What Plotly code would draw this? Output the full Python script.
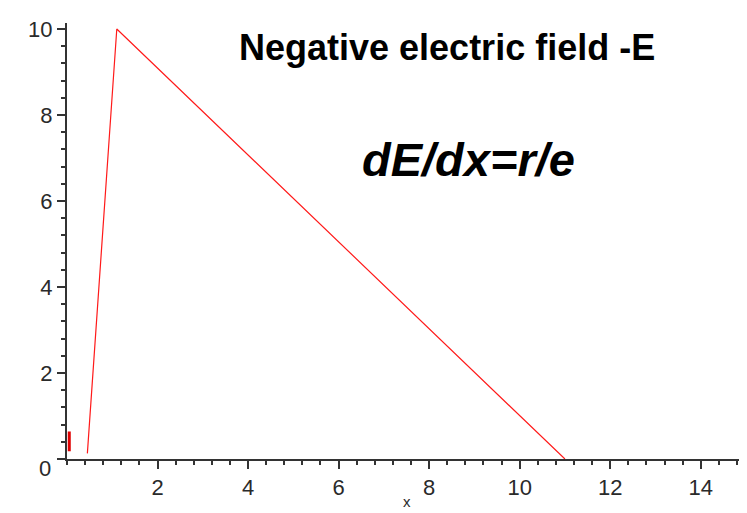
import plotly.graph_objects as go

# Data
field_x = [0.45, 1.1, 11.0]
field_y = [0.13, 10.0, 0.0]

edge_x = [0.05, 0.05]
edge_y = [0.18, 0.64]

x_ticks = [2, 4, 6, 8, 10, 12, 14]
y_ticks = [0, 2, 4, 6, 8, 10]
y_labels = ["", "2", "4", "6", "8", "10"]

title_text = "Negative electric field -E"
eq_text = "<b><i>dE/dx=r/e</i></b>"
x_title = "x"

fig = go.Figure()
fig.add_trace(go.Scatter(x=field_x, y=field_y, mode="lines",
                         line=dict(color="#ff1a1a", width=1.2),
                         cliponaxis=False, showlegend=False))
fig.add_trace(go.Scatter(x=edge_x, y=edge_y, mode="lines",
                         line=dict(color="#e00000", width=3),
                         cliponaxis=False, showlegend=False))

fam = "Liberation Sans, Arial, sans-serif"
axis_font = dict(family=fam, size=22, color="#2a2a2a")

fig.update_layout(
    width=747, height=513,
    margin=dict(l=59, r=9, t=10, b=62),
    paper_bgcolor="white", plot_bgcolor="white",
    showlegend=False,
    xaxis=dict(range=[0, 15], showgrid=False, zeroline=False,
               showline=True, linecolor="#333333", linewidth=2,
               ticks="outside", ticklen=8, tickwidth=2, tickcolor="#333333",
               tickvals=x_ticks, ticktext=[str(v) for v in x_ticks],
               tickfont=axis_font,
               minor=dict(dtick=0.4, tick0=0, ticks="outside", ticklen=4,
                          tickwidth=2, tickcolor="#333333")),
    yaxis=dict(range=[0, 10.14], showgrid=False, zeroline=False,
               showline=True, linecolor="#333333", linewidth=2,
               ticks="outside", ticklen=8, tickwidth=2, tickcolor="#333333",
               tickvals=y_ticks, ticktext=y_labels,
               tickfont=axis_font,
               minor=dict(dtick=0.4, tick0=0, ticks="outside", ticklen=4,
                          tickwidth=2, tickcolor="#333333")),
    annotations=[
        dict(text="0", xref="x", yref="y", x=0, y=0, xanchor="right", yanchor="middle",
             xshift=-14, yshift=-9, showarrow=False, font=axis_font),
        dict(text=x_title, xref="paper", yref="paper", x=0.5, y=-0.098,
             xanchor="center", yanchor="middle", showarrow=False,
             font=dict(family=fam, size=15, color="#2a2a2a")),
        dict(text="<b>" + title_text + "</b>", xref="paper", yref="paper",
             x=0.560, y=0.943, xanchor="center", yanchor="middle", showarrow=False,
             font=dict(family=fam, size=36, color="black")),
        dict(text=eq_text, xref="paper", yref="paper",
             x=0.5906, y=0.686, xanchor="center", yanchor="middle", showarrow=False,
             font=dict(family=fam, size=47, color="black")),
    ],
)

fig.write_html("out.html")
